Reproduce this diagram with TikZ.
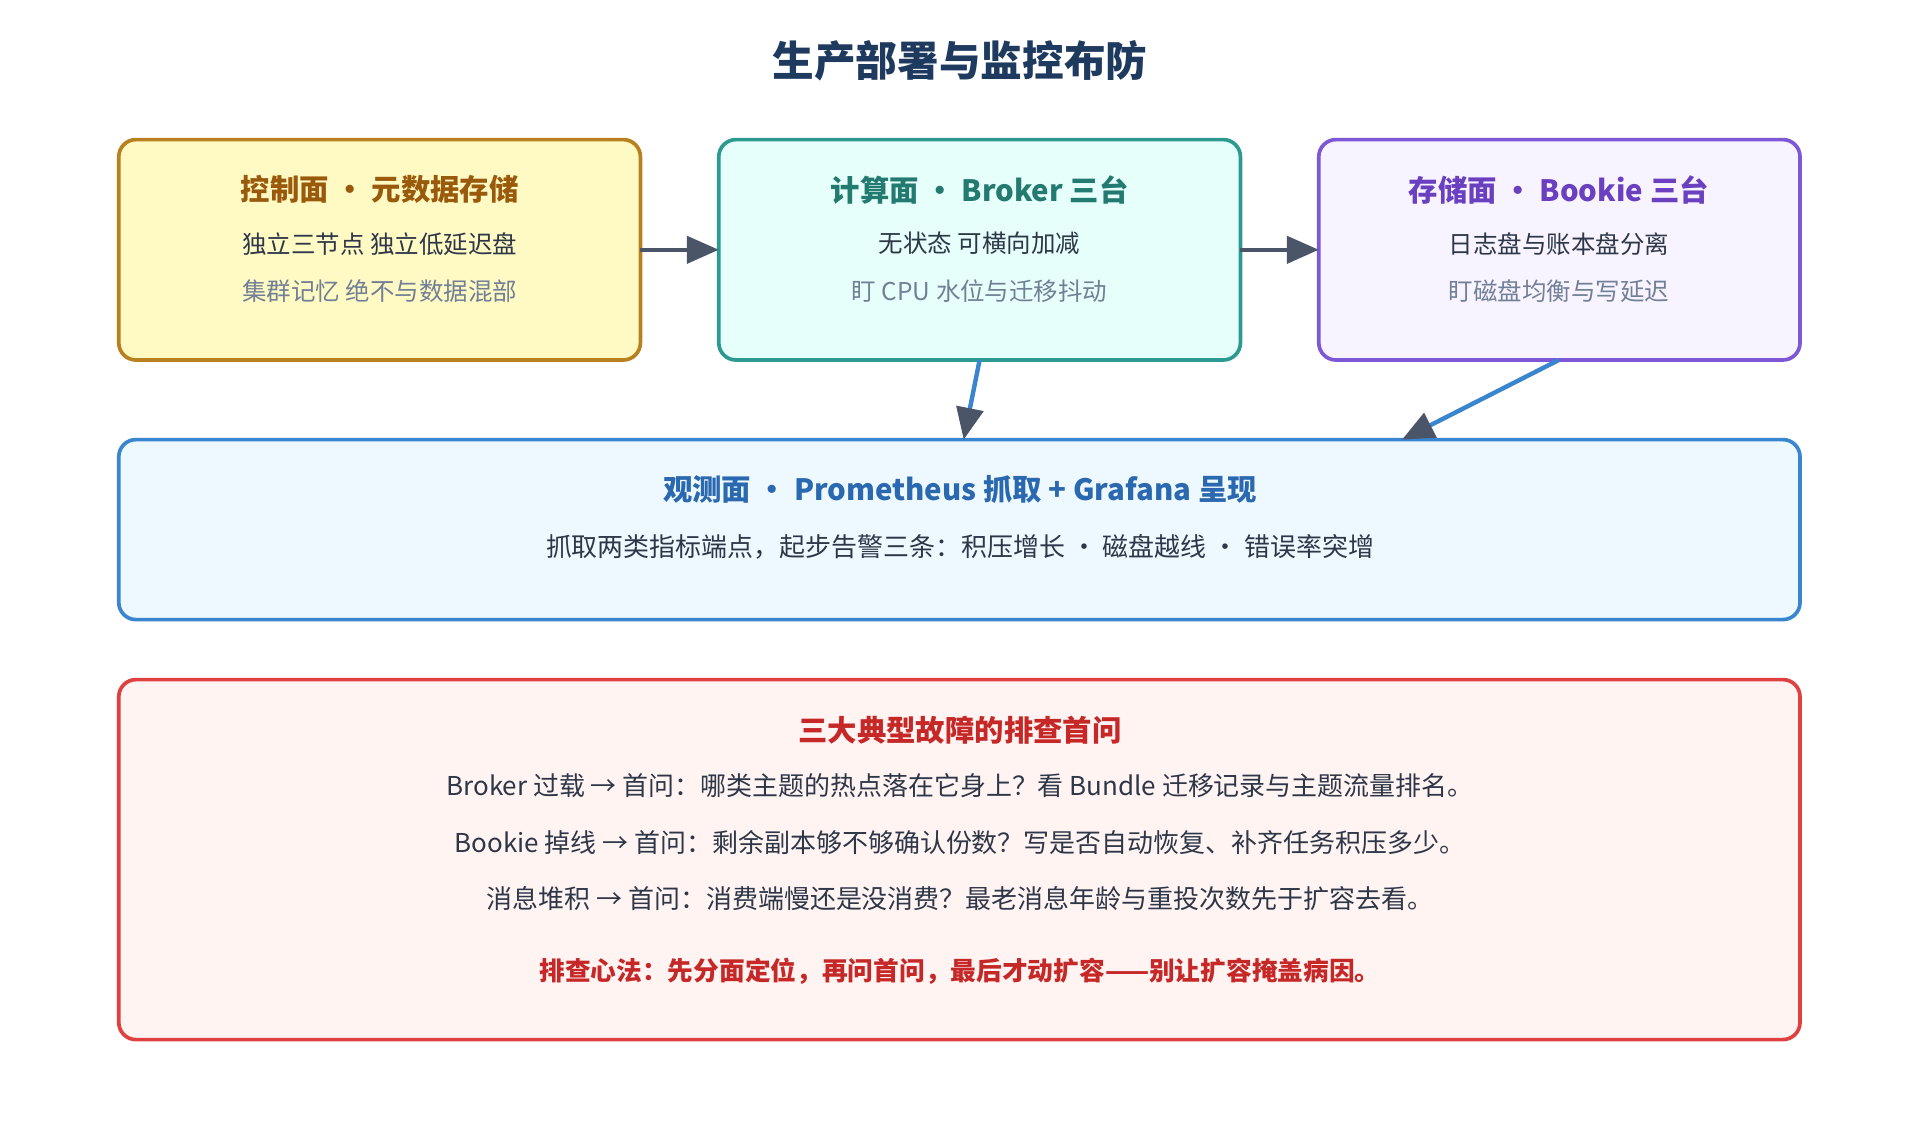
\documentclass[tikz,border=0pt]{standalone}
\usepackage{fontspec}
\setmainfont{Noto Sans CJK SC}
\usetikzlibrary{arrows.meta}
\definecolor{ybd}{HTML}{B8801E}\definecolor{yfl}{HTML}{FFFAC4}\definecolor{ytx}{HTML}{9A5A0B}
\definecolor{tbd}{HTML}{2C9A90}\definecolor{tfl}{HTML}{E6FFFA}\definecolor{ttx}{HTML}{237A70}
\definecolor{pbd}{HTML}{7E57D6}\definecolor{pfl}{HTML}{F8F4FF}\definecolor{ptx}{HTML}{6A3FC0}
\definecolor{bbd}{HTML}{3A85D0}\definecolor{bfl}{HTML}{EEF8FF}\definecolor{btx}{HTML}{2A68B0}
\definecolor{rbd}{HTML}{E04040}\definecolor{rfl}{HTML}{FFF4F2}\definecolor{rtx}{HTML}{C62828}
\definecolor{ink}{HTML}{2D3748}\definecolor{mut}{HTML}{718096}\definecolor{arr}{HTML}{4A5568}
\definecolor{ttl}{HTML}{1E3A5F}
\begin{document}
\begin{tikzpicture}[x=0.5pt,y=-0.5pt,
 box/.style={rounded corners=7pt,line width=1.5pt},
 t/.style={font=\fontsize{12}{14}\selectfont\bfseries},
 l/.style={font=\fontsize{10}{12}\selectfont,text=ink},
 w/.style={font=\fontsize{10.6}{12}\selectfont,text=ink},
 g/.style={font=\fontsize{10}{12}\selectfont,text=mut},
 ar/.style={line width=1.8pt}]
\useasboundingbox[fill=white] (0,0) rectangle (1568,915);
\node[font=\fontsize{17}{20}\selectfont\bfseries,text=ttl] (title) at (784,50) {生产部署与监控布防};
\draw[box,draw=ybd,fill=yfl] (97,114) rectangle (523,294);
\draw[box,draw=tbd,fill=tfl] (587,114) rectangle (1013,294);
\draw[box,draw=pbd,fill=pfl] (1077,114) rectangle (1470,294);
\draw[box,draw=bbd,fill=bfl] (97,359) rectangle (1470,506);
\draw[box,draw=rbd,fill=rfl] (97,555) rectangle (1470,849);
\coordinate (a1) at (523,204); \coordinate (b1) at (587,204);
\coordinate (a2) at (1013,204); \coordinate (b2) at (1077,204);
\coordinate (c1) at (800,294); \coordinate (d1) at (787,359);
\coordinate (c2) at (1273,294); \coordinate (d2) at (1145,359);
\draw[ar,draw=arr,-{Triangle[length=13pt,width=11pt,fill=arr]}] (a1) -- (b1);
\draw[ar,draw=arr,-{Triangle[length=13pt,width=11pt,fill=arr]}] (a2) -- (b2);
\draw[ar,draw=bbd,-{Triangle[length=13pt,width=11pt,color=arr]}] (c1) -- (d1);
\draw[ar,draw=bbd,-{Triangle[length=13pt,width=11pt,color=arr]}] (c2) -- (d2);
\node[t,text=ytx] (t1) at (310,155) {控制面 • 元数据存储};
\node[l] (l1) at (310,199) {独立三节点 独立低延迟盘};
\node[g] (g1) at (310,238) {集群记忆 绝不与数据混部};
\node[t,text=ttx] (t2) at (800,155) {计算面 • Broker 三台};
\node[l] (l2) at (800,199) {无状态 可横向加减};
\node[g] (g2) at (800,238) {盯 CPU 水位与迁移抖动};
\node[t,text=ptx] (t3) at (1273,155) {存储面 • Bookie 三台};
\node[l] (l3) at (1273,199) {日志盘与账本盘分离};
\node[g] (g3) at (1273,238) {盯磁盘均衡与写延迟};
\node[t,text=btx] (t4) at (784,400) {观测面 • Prometheus 抓取 + Grafana 呈现};
\node[w] (l4) at (784,447) {抓取两类指标端点，起步告警三条：积压增长 · 磁盘越线 · 错误率突增};
\node[t,text=rtx] (t5) at (784,596) {三大典型故障的排查首问};
\node[w] (l5) at (784,642) {Broker 过载 → 首问：哪类主题的热点落在它身上？看 Bundle 迁移记录与主题流量排名。};
\node[w] (l6) at (784,688) {Bookie 掉线 → 首问：剩余副本够不够确认份数？写是否自动恢复、补齐任务积压多少。};
\node[w] (l7) at (784,734) {消息堆积 → 首问：消费端慢还是没消费？最老消息年龄与重投次数先于扩容去看。};
\node[font=\fontsize{10.5}{12}\selectfont\bfseries,text=rtx] (l8) at (784,793) {排查心法：先分面定位，再问首问，最后才动扩容——别让扩容掩盖病因。};
\end{tikzpicture}
\end{document}
